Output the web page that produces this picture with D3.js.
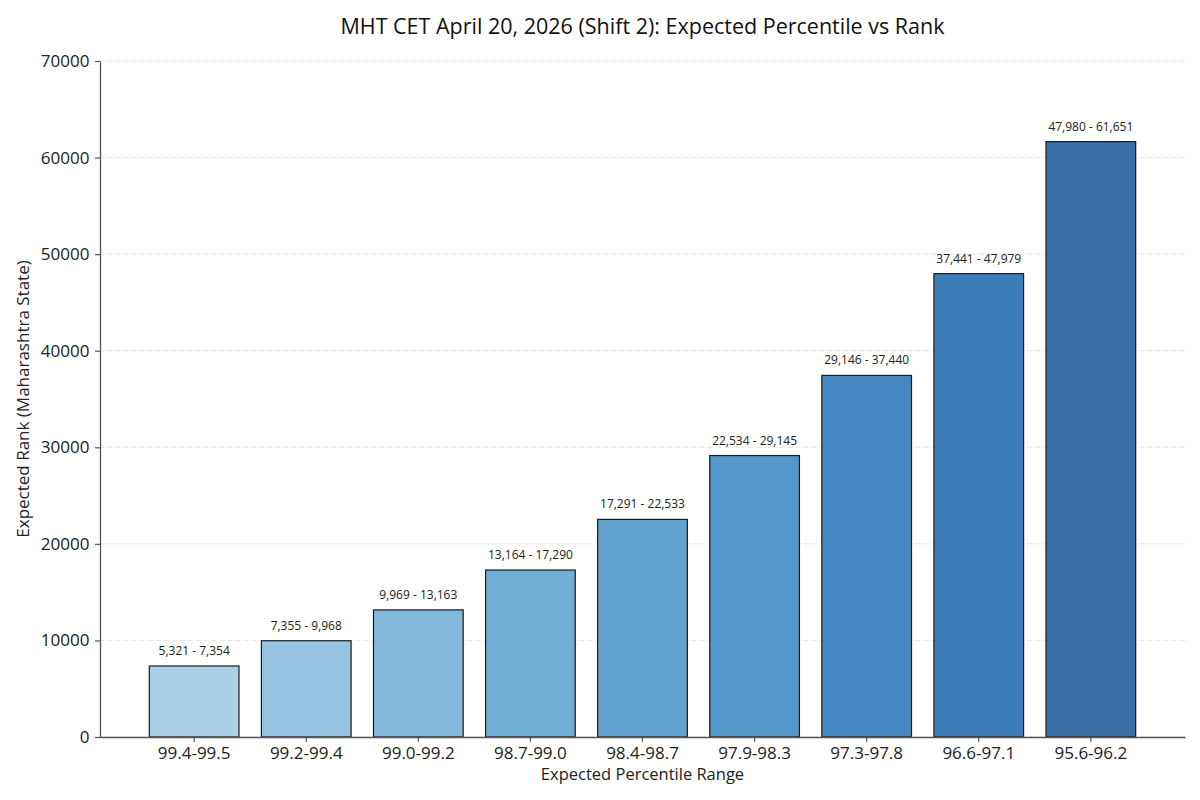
<!DOCTYPE html>
<html>
<head>
<meta charset="utf-8">
<script src="https://cdn.jsdelivr.net/npm/d3@7"></script>
<style>
  body { margin: 0; background: #fff; }
  text { font-family: "Open Sans", Lato, sans-serif; }
</style>
</head>
<body>
<script>
// data
var percentiles = ["99.4-99.5", "99.2-99.4", "99.0-99.2", "98.7-99.0", "98.4-98.7",
                   "97.9-98.3", "97.3-97.8", "96.6-97.1", "95.6-96.2"];
var rankLow  = [5321, 7355, 9969, 13164, 17291, 22534, 29146, 37441, 47980];
var rankHigh = [7354, 9968, 13163, 17290, 22533, 29145, 37440, 47979, 61651];
var yTicks = [0, 10000, 20000, 30000, 40000, 50000, 60000, 70000];
var barColors = ["#abd0e6", "#97c4e0", "#83b9da", "#70aed6", "#62a3d0",
                 "#5396c9", "#4689c2", "#3d7cb8", "#396ea6"];

var width = 1200, height = 800;
var margin = {top: 61, right: 15, bottom: 63, left: 100};
var font = "'Open Sans', Lato, sans-serif";

var svg = d3.select("body")
  .append("svg")
  .attr("width", width)
  .attr("height", height);

var x = d3.scaleBand()
  .domain(percentiles)
  .range([margin.left, width - margin.right])
  .paddingInner(0.2)
  .paddingOuter(0.44);

var y = d3.scaleLinear()
  .domain([0, 70000])
  .range([height - margin.bottom, margin.top]);

//grid
svg.append("g")
  .selectAll("line")
  .data(yTicks)
  .enter()
  .append("line")
  .attr("x1", margin.left)
  .attr("x2", width - margin.right)
  .attr("y1", function(d) { return y(d); })
  .attr("y2", function(d) { return y(d); })
  .attr("stroke", "#e3e3e3")
  .attr("stroke-width", 1)
  .attr("stroke-dasharray", "5,3");

//bars
svg.append("g")
  .selectAll("rect")
  .data(rankHigh)
  .enter()
  .append("rect")
  .attr("x", function(d, i) { return x(percentiles[i]); })
  .attr("y", function(d) { return y(d); })
  .attr("width", x.bandwidth())
  .attr("height", function(d) { return y(0) - y(d); })
  .attr("fill", function(d, i) { return barColors[i]; })
  .attr("stroke", "#1a1a1a")
  .attr("stroke-width", 1.2);

//bar labels
svg.append("g")
  .selectAll("text")
  .data(rankHigh)
  .enter()
  .append("text")
  .attr("x", function(d, i) { return x(percentiles[i]) + x.bandwidth() / 2; })
  .attr("y", function(d) { return y(d) - 11; })
  .attr("text-anchor", "middle")
  .attr("font-size", "12px")
  .attr("fill", "#222")
  .text(function(d, i) { return d3.format(",")(rankLow[i]) + " - " + d3.format(",")(d); });

//axes
var xAxis = svg.append("g")
  .attr("transform", "translate(0," + y(0) + ")")
  .call(d3.axisBottom(x).tickSize(5).tickSizeOuter(0));

var yAxis = svg.append("g")
  .attr("transform", "translate(" + margin.left + ",0)")
  .call(d3.axisLeft(y).tickValues(yTicks).tickFormat(d3.format("d")).tickSize(5).tickSizeOuter(0));

[xAxis, yAxis].forEach(function(a) {
  a.select(".domain").attr("stroke", "#555").attr("stroke-width", 1.3);
  a.selectAll(".tick line").attr("stroke", "#555").attr("stroke-width", 1.2);
  a.selectAll(".tick text")
    .attr("font-size", "17px")
    .attr("fill", "#222")
    .style("font-family", font);
});
xAxis.selectAll(".tick text").attr("dy", "0.8em");
yAxis.selectAll(".tick text").attr("dx", "-0.15em");

//titles
svg.append("text")
  .attr("x", (margin.left + width - margin.right) / 2)
  .attr("y", 34)
  .attr("text-anchor", "middle")
  .attr("font-size", "21.5px")
  .attr("fill", "#111")
  .text("MHT CET April 20, 2026 (Shift 2): Expected Percentile vs Rank");

svg.append("text")
  .attr("x", (margin.left + width - margin.right) / 2)
  .attr("y", 780)
  .attr("text-anchor", "middle")
  .attr("font-size", "16.5px")
  .attr("fill", "#222")
  .text("Expected Percentile Range");

svg.append("text")
  .attr("transform", "translate(29," + (margin.top + y(0)) / 2 + ") rotate(-90)")
  .attr("text-anchor", "middle")
  .attr("font-size", "17px")
  .attr("fill", "#222")
  .text("Expected Rank (Maharashtra State)");
</script>
</body>
</html>
